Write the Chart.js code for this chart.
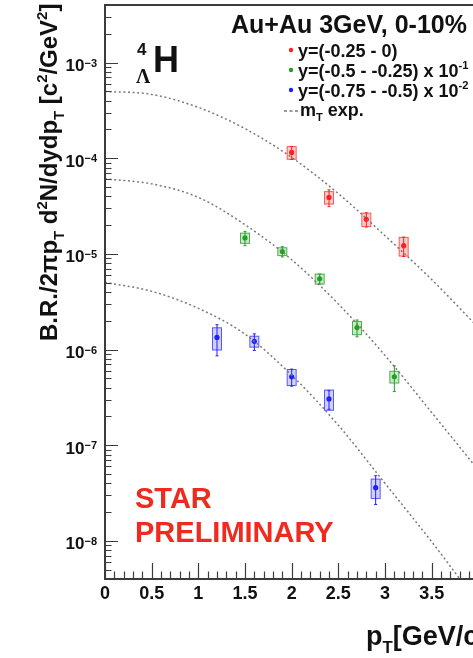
<!DOCTYPE html>
<html>
<head>
<meta charset="utf-8">
<script src="https://cdn.jsdelivr.net/npm/chart.js@4.4.1/dist/chart.umd.min.js"></script>
<style>
  html, body { margin: 0; padding: 0; background: #fff; overflow: hidden; }
  #wrap { width: 473px; height: 658px; overflow: hidden; }
</style>
</head>
<body>
<div id="wrap"><canvas id="spectra" width="560" height="658"></canvas></div>
<script>
// m_T exponential fits
const ptFit = [0, 0.5, 1.0, 1.5, 2.0, 2.5, 3.0, 3.5, 4.0];
const fitRed = [5.0e-4, 4.65e-4, 3.4e-4, 2.04e-4, 1.02e-4, 4.27e-5, 1.55e-5, 5.4e-6, 1.7e-6];
const fitGreen = [6.1e-5, 5.4e-5, 3.9e-5, 2.02e-5, 8.7e-6, 3.0e-6, 8.7e-7, 2.2e-7, 5.5e-8];
const fitBlue = [5.05e-6, 4.07e-6, 2.7e-6, 1.45e-6, 5.4e-7, 1.62e-7, 4.0e-8, 9.8e-9, 2.2e-9];

// y = (-0.25 - 0)
const ptRed = [2.0, 2.4, 2.8, 3.2];
const valRed = [1.15e-4, 3.9e-5, 2.3e-5, 1.22e-5];
const statRed = [1.8e-5, 7.8e-6, 3.9e-6, 2.8e-6];
const sysRed = [1.75e-5, 5.8e-6, 3.7e-6, 2.7e-6];

// y = (-0.5 - -0.25) x 10^-1
const ptGreen = [1.5, 1.9, 2.3, 2.7, 3.1];
const valGreen = [1.47e-5, 1.06e-5, 5.5e-6, 1.7e-6, 5.2e-7];
const statGreen = [2.5e-6, 1.3e-6, 6.6e-7, 3.4e-7, 1.56e-7];
const sysGreen = [1.8e-6, 1.0e-6, 6.6e-7, 2.7e-7, 7.3e-8];

// y = (-0.75 - -0.5) x 10^-2
const ptBlue = [1.2, 1.6, 2.0, 2.4, 2.9];
const valBlue = [1.34e-6, 1.22e-6, 5.2e-7, 3.05e-7, 3.6e-8];
const statBlue = [4.8e-7, 2.4e-7, 1.05e-7, 6.7e-8, 1.2e-8];
const sysBlue = [3.5e-7, 1.6e-7, 9.9e-8, 7.3e-8, 8.3e-9];

const xTickLabels = ['0', '0.5', '1', '1.5', '2', '2.5', '3', '3.5', '4'];
const yDecades = [-3, -4, -5, -6, -7, -8];
const legendTitle = 'Au+Au 3GeV, 0-10%';

const RED = '#ff1f1f', GREEN = '#22a022', BLUE = '#1f1fff';
const FONT = '"Liberation Sans", Arial, Helvetica, sans-serif';

const toXY = (xs, ys) => xs.map((x, i) => ({ x: x, y: ys[i] }));

const series = [
  { pt: ptRed, val: valRed, stat: statRed, sys: sysRed, color: RED, fill: 'rgba(255,70,70,0.28)', edge: 'rgba(255,40,40,0.75)' },
  { pt: ptGreen, val: valGreen, stat: statGreen, sys: sysGreen, color: GREEN, fill: 'rgba(40,170,40,0.25)', edge: 'rgba(30,150,30,0.75)' },
  { pt: ptBlue, val: valBlue, stat: statBlue, sys: sysBlue, color: BLUE, fill: 'rgba(70,70,255,0.25)', edge: 'rgba(40,40,255,0.75)' },
];

// text with sub/superscripts: parts = [[text, mode]] mode 0 normal, 1 sup, -1 sub
function drawRich(ctx, parts, x, y, size, family) {
  let cx = x;
  parts.forEach(([t, mode]) => {
    const s = mode === 0 ? size : size * 0.62;
    const dy = mode === 1 ? -size * 0.42 : mode === -1 ? size * 0.28 : 0;
    ctx.font = 'bold ' + s + 'px ' + (family || FONT);
    ctx.fillText(t, cx, y + dy);
    cx += ctx.measureText(t).width;
  });
  return cx - x;
}

const decor = {
  id: 'decor',
  beforeDatasetsDraw(chart) {
    const ctx = chart.ctx;
    const xs = chart.scales.x, ys = chart.scales.y;
    ctx.save();
    series.forEach(s => {
      s.pt.forEach((p, i) => {
        const px = xs.getPixelForValue(p);
        const top = ys.getPixelForValue(s.val[i] + s.sys[i]);
        const bot = ys.getPixelForValue(s.val[i] - s.sys[i]);
        ctx.fillStyle = s.fill;
        ctx.fillRect(px - 4.5, top, 9, bot - top);
        ctx.strokeStyle = s.edge;
        ctx.lineWidth = 1;
        ctx.strokeRect(px - 4.5, top, 9, bot - top);
        const st = ys.getPixelForValue(s.val[i] + s.stat[i]);
        const sb = ys.getPixelForValue(s.val[i] - s.stat[i]);
        ctx.strokeStyle = s.color;
        ctx.beginPath();
        ctx.moveTo(px, st); ctx.lineTo(px, sb);
        ctx.moveTo(px - 1.5, st); ctx.lineTo(px + 1.5, st);
        ctx.moveTo(px - 1.5, sb); ctx.lineTo(px + 1.5, sb);
        ctx.stroke();
      });
    });
    ctx.restore();
  },
  afterDraw(chart) {
    const ctx = chart.ctx;
    const xs = chart.scales.x, ys = chart.scales.y;
    const a = chart.chartArea;
    ctx.save();

    // frame
    ctx.strokeStyle = '#3c3c3c';
    ctx.lineWidth = 2;
    ctx.strokeRect(a.left, a.top, a.right - a.left, a.bottom - a.top);

    // inward ticks
    ctx.lineWidth = 1.2;
    ctx.beginPath();
    for (let i = 0; i <= 45; i++) {
      const px = Math.round(xs.getPixelForValue(i / 10)) + 0.5;
      ctx.moveTo(px, a.bottom);
      ctx.lineTo(px, a.bottom - (i % 5 === 0 ? 16 : 7.5));
    }
    for (let e = -9; e <= -3; e++) {
      for (let m = 1; m <= 9; m++) {
        const v = m * Math.pow(10, e);
        if (v < ys.min || v > ys.max) continue;
        const py = Math.round(ys.getPixelForValue(v)) + 0.5;
        ctx.moveTo(a.left, py);
        ctx.lineTo(a.left + (m === 1 ? 13 : 6.5), py);
      }
    }
    ctx.stroke();

    // x tick labels
    ctx.fillStyle = '#111';
    ctx.textAlign = 'center';
    ctx.textBaseline = 'alphabetic';
    ctx.font = 'bold 18px ' + FONT;
    xTickLabels.forEach(l => {
      ctx.fillText(l, xs.getPixelForValue(parseFloat(l)), 599);
    });

    // y tick labels 10^n
    ctx.textAlign = 'right';
    yDecades.forEach(d => {
      const py = ys.getPixelForValue(Math.pow(10, d));
      ctx.font = 'bold 11px ' + FONT;
      const sup = '\u2212' + Math.abs(d);
      ctx.fillText(sup, 97, py + 4);
      const w = ctx.measureText(sup).width;
      ctx.font = 'bold 17px ' + FONT;
      ctx.fillText('10', 97 - w, py + 8.5);
    });

    // axis titles
    ctx.textAlign = 'left';
    ctx.save();
    ctx.translate(57, 341);
    ctx.rotate(-Math.PI / 2);
    drawRich(ctx, [['B.R./2\u03c0p', 0], ['T', -1], [' d', 0], ['2', 1], ['N/dydp', 0], ['T', -1],
      [' [c', 0], ['2', 1], ['/GeV', 0], ['2', 1], [']', 0]], 0, 0, 24);
    ctx.restore();
    drawRich(ctx, [['p', 0], ['T', -1], ['[GeV/c]', 0]], 366, 645, 27);

    // hypernucleus label
    ctx.font = 'bold 36px ' + FONT;
    ctx.fillText('H', 153, 72);
    ctx.font = 'bold 17px ' + FONT;
    ctx.fillText('4', 137, 55);
    ctx.font = 'bold 20px "Liberation Serif", "Times New Roman", serif';
    ctx.fillText('\u039b', 136, 83);

    // legend
    ctx.font = 'bold 25px ' + FONT;
    ctx.fillText(legendTitle, 231, 33);
    const rows = [
      { c: RED, parts: [['y=(-0.25 - 0)', 0]], y: 57 },
      { c: GREEN, parts: [['y=(-0.5 - -0.25) x 10', 0], ['-1', 1]], y: 77 },
      { c: BLUE, parts: [['y=(-0.75 - -0.5) x 10', 0], ['-2', 1]], y: 97 },
    ];
    rows.forEach(r => {
      ctx.fillStyle = r.c;
      ctx.beginPath();
      ctx.arc(291, r.y - 7, 2.2, 0, Math.PI * 2);
      ctx.fill();
      ctx.fillStyle = '#111';
      drawRich(ctx, r.parts, 298, r.y, 18);
    });
    ctx.strokeStyle = '#777';
    ctx.lineWidth = 1.5;
    ctx.setLineDash([3, 2.5]);
    ctx.beginPath();
    ctx.moveTo(284, 111); ctx.lineTo(298, 111);
    ctx.stroke();
    ctx.setLineDash([]);
    drawRich(ctx, [['m', 0], ['T', -1], [' exp.', 0]], 300, 116, 18);

    // preliminary stamp
    ctx.fillStyle = '#f02a1e';
    ctx.font = 'bold 29px ' + FONT;
    ctx.fillText('STAR', 135, 508);
    ctx.fillText('PRELIMINARY', 135, 542);

    ctx.restore();
  }
};

const fitStyle = {
  type: 'line',
  borderColor: '#7a7a7a',
  borderWidth: 1.5,
  borderDash: [2, 2.6],
  pointRadius: 0,
  cubicInterpolationMode: 'monotone',
  fill: false,
};

new Chart(document.getElementById('spectra'), {
  type: 'scatter',
  data: {
    datasets: [
      { ...fitStyle, label: 'fit red', data: toXY(ptFit, fitRed) },
      { ...fitStyle, label: 'fit green', data: toXY(ptFit, fitGreen) },
      { ...fitStyle, label: 'fit blue', data: toXY(ptFit, fitBlue) },
      { label: 'y=(-0.25 - 0)', data: toXY(ptRed, valRed), backgroundColor: RED, borderWidth: 0, pointRadius: 2.6 },
      { label: 'y=(-0.5 - -0.25)', data: toXY(ptGreen, valGreen), backgroundColor: GREEN, borderWidth: 0, pointRadius: 2.6 },
      { label: 'y=(-0.75 - -0.5)', data: toXY(ptBlue, valBlue), backgroundColor: BLUE, borderWidth: 0, pointRadius: 2.6 },
    ]
  },
  options: {
    responsive: false,
    animation: false,
    layout: { padding: { left: 105, top: 5, right: 35, bottom: 79 } },
    plugins: { legend: { display: false }, tooltip: { enabled: false } },
    scales: {
      x: { type: 'linear', min: 0, max: 4.5, display: false },
      y: { type: 'logarithmic', min: 4e-9, max: 4e-3, display: false },
    }
  },
  plugins: [decor]
});
</script>
</body>
</html>
